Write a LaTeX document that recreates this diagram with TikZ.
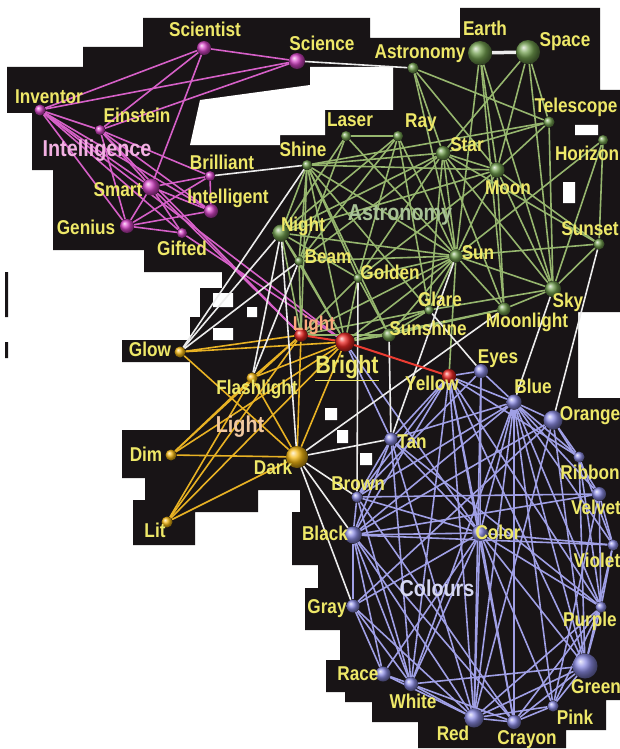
\documentclass[tikz,border=0pt]{standalone}
\usepackage{fontspec}
\newfontfamily\lfont[FakeStretch=0.86]{Liberation Sans}
\definecolor{bg}{RGB}{24,20,22}
\definecolor{lbl}{RGB}{238,232,104}
\definecolor{rlbl}{RGB}{252,168,124}
\definecolor{iball}{RGB}{215,70,200}
\definecolor{iline}{RGB}{214,96,200}
\definecolor{aball}{RGB}{115,160,80}
\definecolor{aline}{RGB}{150,182,110}
\definecolor{lball}{RGB}{245,185,20}
\definecolor{lline}{RGB}{232,178,36}
\definecolor{cball}{RGB}{140,140,228}
\definecolor{cline}{RGB}{160,160,230}
\definecolor{rball}{RGB}{236,40,36}
\definecolor{rline}{RGB}{235,60,50}
\definecolor{wline}{RGB}{236,236,236}
\definecolor{igrp}{RGB}{242,176,226}
\definecolor{agrp}{RGB}{168,194,150}
\definecolor{lgrp}{RGB}{242,201,160}
\definecolor{cgrp}{RGB}{214,216,242}
\pgfdeclarelayer{blob}
\pgfdeclarelayer{links}
\pgfsetlayers{blob,links,main}
\tikzset{
  tag/.style={text=lbl,font=\lfont\bfseries\fontsize{20}{20}\selectfont,inner sep=0pt,
              text height=14pt,text depth=0pt},
  group/.style={font=\lfont\bfseries\fontsize{23}{23}\selectfont,inner sep=0pt,
                text height=16pt,text depth=0pt},
  ball/.style={circle,inner sep=0pt,minimum size=#1},
  inode/.style={ball=#1,ball color=iball}, inode/.default=11pt,
  anode/.style={ball=#1,ball color=aball}, anode/.default=11pt,
  lnode/.style={ball=#1,ball color=lball}, lnode/.default=11pt,
  cnode/.style={ball=#1,ball color=cball}, cnode/.default=11pt,
  rnode/.style={ball=#1,ball color=rball}, rnode/.default=11pt,
  ilink/.style={draw=iline,line width=1.6pt},
  alink/.style={draw=aline,line width=1.6pt},
  llink/.style={draw=lline,line width=1.6pt},
  clink/.style={draw=cline,line width=1.6pt},
  rlink/.style={draw=rline,line width=2pt},
  wlink/.style={draw=wline,line width=1.6pt},
}
\begin{document}
\begin{tikzpicture}[x=1pt,y=-1pt]
  \useasboundingbox (0,0) rectangle (620,749);
  % black ground
  \begin{pgfonlayer}{blob}
    \fill[bg] (7,67) -- (83,67) -- (83,47) -- (143,47) -- (143,18) -- (370,18) -- (370,38)
      -- (460,38) -- (460,8) -- (600,8) -- (600,90) -- (620,90) -- (620,312) -- (578,312)
      -- (578,398) -- (620,398) -- (620,700) -- (606,700) -- (606,730) -- (566,730)
      -- (566,748) -- (418,748) -- (418,722) -- (372,722) -- (372,702) -- (345,702)
      -- (345,692) -- (326,692) -- (326,660) -- (340,660) -- (340,630) -- (305,630)
      -- (305,588) -- (318,588) -- (318,565) -- (292,565) -- (292,512) -- (300,512)
      -- (300,490) -- (258,490) -- (258,512) -- (195,512) -- (195,545) -- (133,545)
      -- (133,500) -- (145,500) -- (145,478) -- (122,478) -- (122,430) -- (190,430)
      -- (190,362) -- (122,362) -- (122,340) -- (190,340) -- (190,317) -- (200,317)
      -- (200,288) -- (222,288) -- (222,272) -- (144,272) -- (144,250) -- (53,250)
      -- (53,170) -- (32,170) -- (32,113) -- (7,113) -- cycle;
    \fill[white] (200,100) -- (310,85) -- (310,67) -- (393,67) -- (393,110) -- (325,110)
      -- (325,135) -- (280,135) -- (280,145) -- (190,145) -- cycle;
    \fill[white] (563,182) rectangle (575,203) (575,125) rectangle (598,135)
      (213,293) rectangle (233,307) (247,307) rectangle (257,317) (213,328) rectangle (233,340)
      (325,408) rectangle (337,420) (337,430) rectangle (348,443) (360,453) rectangle (372,465);
    \fill[bg] (5,272) rectangle (8,317) (5,342) rectangle (8,358);
  \end{pgfonlayer}

  % Intelligence
  \node[inode=14pt] (scientist) at (204,48) {};
  \node[inode=16pt] (science) at (297,61) {};
  \node[inode] (inventor) at (40,110) {};
  \node[inode=10pt] (einstein) at (100,130) {};
  \node[inode=10pt] (brilliant) at (210,176) {};
  \node[inode=17pt] (smart) at (151,187) {};
  \node[inode=14pt] (intelligent) at (211,211) {};
  \node[inode=14pt] (genius) at (127,226) {};
  \node[inode=10pt] (gifted) at (182,233) {};
  % Astronomy
  \node[anode] (astronomy) at (413,68) {};
  \node[anode=24pt] (earth) at (480,53) {};
  \node[anode=24pt] (space) at (528,52) {};
  \node[anode] (telescope) at (549,122) {};
  \node[anode=10pt] (laser) at (346,136) {};
  \node[anode=10pt] (ray) at (398,136) {};
  \node[anode=14pt] (star) at (443,153) {};
  \node[anode=10pt] (horizon) at (603,140) {};
  \node[anode=15pt] (moon) at (497,170) {};
  \node[anode=10pt] (shine) at (307,165) {};
  \node[anode=17pt] (night) at (281,233) {};
  \node[anode=9pt] (beam) at (299,261) {};
  \node[anode=9pt] (golden) at (358,278) {};
  \node[anode=13pt] (sun) at (456,256) {};
  \node[anode] (sunset) at (599,244) {};
  \node[anode=16pt] (sky) at (553,289) {};
  \node[anode=9pt] (glare) at (429,310) {};
  \node[anode=13pt] (moonlight) at (504,309) {};
  \node[anode=13pt] (sunshine) at (389,335) {};
  % bridges
  \node[rnode=13pt] (light) at (301,335) {};
  \node[rnode=19pt] (bright) at (345,342) {};
  \node[rnode=14pt] (yellow) at (449,376) {};
  % Light
  \node[lnode] (glow) at (180,352) {};
  \node[lnode] (flashlight) at (252,378) {};
  \node[lnode] (dim) at (171,455) {};
  \node[lnode=22pt] (dark) at (297,457) {};
  \node[lnode] (lit) at (167,522) {};
  % Colours
  \node[cnode=14pt] (eyes) at (481,371) {};
  \node[cnode=15pt] (blue) at (514,402) {};
  \node[cnode=19pt] (orange) at (553,420) {};
  \node[cnode=13pt] (tan) at (391,439) {};
  \node[cnode] (ribbon) at (579,457) {};
  \node[cnode] (brown) at (357,497) {};
  \node[cnode=14pt] (velvet) at (599,494) {};
  \node[cnode=17pt] (black) at (353,535) {};
  \node[cnode=16pt] (color) at (480,533) {};
  \node[cnode] (violet) at (613,545) {};
  \node[cnode=13pt] (gray) at (353,606) {};
  \node[cnode] (purple) at (601,607) {};
  \node[cnode=15pt] (race) at (383,674) {};
  \node[cnode=25pt] (green) at (585,666) {};
  \node[cnode=14pt] (white) at (411,684) {};
  \node[cnode] (pink) at (553,706) {};
  \node[cnode=19pt] (red) at (474,718) {};
  \node[cnode=14pt] (crayon) at (514,722) {};

  \begin{pgfonlayer}{links}
    \foreach \a/\b in {scientist/science,scientist/inventor,scientist/einstein,scientist/smart,
        science/inventor,science/einstein,inventor/einstein,inventor/smart,inventor/genius,
        inventor/intelligent,inventor/gifted,einstein/genius,einstein/smart,einstein/brilliant,
        einstein/intelligent,smart/brilliant,smart/intelligent,smart/genius,smart/gifted,
        genius/brilliant,genius/intelligent,genius/gifted,brilliant/intelligent,
        einstein/light,smart/light,inventor/bright,gifted/bright}
      \draw[ilink] (\a) -- (\b);
    \foreach \a/\b in {astronomy/telescope,astronomy/star,astronomy/moon,astronomy/sun,
        earth/moon,earth/sun,earth/sky,earth/moonlight,space/star,space/moon,space/telescope,
        space/sky,telescope/star,telescope/moon,telescope/sky,telescope/shine,
        laser/ray,laser/night,laser/beam,laser/sun,ray/night,ray/beam,ray/golden,ray/sun,ray/glare,
        star/shine,star/moon,star/sun,star/sky,star/night,star/beam,star/golden,star/glare,
        star/moonlight,star/sunset,horizon/sunset,horizon/sky,horizon/sun,
        moon/sun,moon/sky,moon/sunset,moon/night,moon/golden,moon/moonlight,moon/shine,
        sun/night,sun/beam,sun/golden,sun/glare,sun/sunshine,sun/light,sun/bright,sun/sky,
        sun/sunset,sun/moonlight,sun/shine,sunset/sky,sky/moonlight,sky/glare,
        shine/night,shine/beam,shine/golden,shine/sunshine,shine/light,shine/bright,shine/glare,
        night/beam,night/light,night/bright,night/golden,beam/light,beam/bright,
        golden/bright,golden/light,golden/sunshine,glare/bright,glare/sunshine,glare/light,
        sunshine/bright,sunshine/light,moonlight/bright,moonlight/sunshine,sun/yellow}
      \draw[alink] (\a) -- (\b);
    \foreach \a/\b in {glow/light,glow/bright,glow/dark,flashlight/light,flashlight/bright,
        flashlight/dark,flashlight/dim,flashlight/lit,dim/dark,dim/light,dim/bright,
        lit/dark,lit/light,lit/bright,dark/light,dark/bright}
      \draw[llink] (\a) -- (\b);
    \foreach \a/\b in {yellow/eyes,yellow/blue,yellow/tan,yellow/brown,yellow/black,yellow/color,
        yellow/red,yellow/crayon,yellow/green,yellow/purple,yellow/ribbon,yellow/white,
        eyes/blue,eyes/red,eyes/color,eyes/brown,
        blue/orange,blue/ribbon,blue/velvet,blue/violet,blue/purple,blue/green,blue/pink,
        blue/crayon,blue/red,blue/white,blue/color,blue/black,blue/brown,blue/tan,
        orange/ribbon,orange/velvet,orange/black,orange/red,orange/gray,orange/green,
        tan/brown,tan/black,tan/color,tan/red,tan/purple,tan/white,
        ribbon/violet,ribbon/purple,ribbon/green,
        brown/black,brown/velvet,brown/crayon,brown/white,brown/color,
        velvet/violet,velvet/purple,velvet/pink,velvet/black,
        black/color,black/gray,black/race,black/white,black/red,black/crayon,black/violet,
        color/red,color/crayon,color/green,color/pink,color/white,color/race,color/purple,
        color/violet,color/gray,violet/purple,violet/green,gray/race,gray/white,gray/red,
        purple/green,purple/pink,purple/crayon,purple/red,race/white,race/red,
        green/pink,green/crayon,green/white,green/red,white/red,white/crayon,
        pink/crayon,pink/red,red/crayon,bright/color,bright/tan}
      \draw[clink] (\a) -- (\b);
    \foreach \a/\b in {science/astronomy,brilliant/shine,glow/shine,glow/night,glow/beam,
        flashlight/night,flashlight/beam,dark/night,dark/moonlight,dark/tan,dark/brown,
        dark/black,dark/gray,golden/brown,sun/tan,sunshine/tan,glare/eyes,sky/blue,sunset/orange}
      \draw[wlink] (\a) -- (\b);
    \draw[wlink,line width=3.5pt] (earth) -- (space);
    \draw[rlink] (light) -- (bright);
    \draw[rlink] (bright) -- (yellow);
  \end{pgfonlayer}

  % labels
  \node[tag] (t-scientist) at (205,30) {Scientist};
  \node[tag] (t-science) at (322,44) {Science};
  \node[tag] (t-inventor) at (49,97) {Inventor};
  \node[tag] (t-einstein) at (137,116) {Einstein};
  \node[tag] (t-brilliant) at (222,162) {Brilliant};
  \node[tag] (t-smart) at (118,189) {Smart};
  \node[tag] (t-intelligent) at (228,196) {Intelligent};
  \node[tag] (t-genius) at (86,227) {Genius};
  \node[tag] (t-gifted) at (182,248) {Gifted};
  \node[tag] (t-astronomy) at (420,52) {Astronomy};
  \node[tag] (t-earth) at (485,29) {Earth};
  \node[tag] (t-space) at (565,40) {Space};
  \node[tag] (t-telescope) at (576,106) {Telescope};
  \node[tag] (t-laser) at (350,120) {Laser};
  \node[tag] (t-ray) at (421,121) {Ray};
  \node[tag] (t-star) at (467,144) {Star};
  \node[tag] (t-horizon) at (587,153) {Horizon};
  \node[tag] (t-moon) at (508,187) {Moon};
  \node[tag] (t-shine) at (303,150) {Shine};
  \node[tag] (t-night) at (303,224) {Night};
  \node[tag] (t-beam) at (328,256) {Beam};
  \node[tag] (t-golden) at (390,272) {Golden};
  \node[tag] (t-sun) at (478,252) {Sun};
  \node[tag] (t-sunset) at (590,228) {Sunset};
  \node[tag] (t-sky) at (568,300) {Sky};
  \node[tag] (t-glare) at (440,299) {Glare};
  \node[tag] (t-moonlight) at (527,320) {Moonlight};
  \node[tag] (t-sunshine) at (428,328) {Sunshine};
  \node[tag,text=rlbl] (t-light) at (314,323) {Light};
  \node[tag,font=\lfont\bfseries\fontsize{25}{25}\selectfont,text height=17pt]
    (t-bright) at (347,365) {\underline{Bright}};
  \node[tag] (t-yellow) at (432,383) {Yellow};
  \node[tag] (t-glow) at (150,349) {Glow};
  \node[tag] (t-flashlight) at (257,387) {Flashlight};
  \node[tag] (t-dim) at (146,454) {Dim};
  \node[tag] (t-dark) at (273,467) {Dark};
  \node[tag] (t-lit) at (155,530) {Lit};
  \node[tag] (t-eyes) at (498,356) {Eyes};
  \node[tag] (t-blue) at (533,386) {Blue};
  \node[tag] (t-orange) at (590,413) {Orange};
  \node[tag] (t-tan) at (412,441) {Tan};
  \node[tag] (t-ribbon) at (590,472) {Ribbon};
  \node[tag] (t-brown) at (358,483) {Brown};
  \node[tag] (t-velvet) at (596,507) {Velvet};
  \node[tag] (t-black) at (325,533) {Black};
  \node[tag] (t-color) at (498,532) {Color};
  \node[tag] (t-violet) at (597,560) {Violet};
  \node[tag] (t-gray) at (327,606) {Gray};
  \node[tag] (t-purple) at (590,619) {Purple};
  \node[tag] (t-race) at (358,673) {Race};
  \node[tag] (t-green) at (596,686) {Green};
  \node[tag] (t-white) at (413,701) {White};
  \node[tag] (t-pink) at (575,717) {Pink};
  \node[tag] (t-red) at (453,733) {Red};
  \node[tag] (t-crayon) at (527,737) {Crayon};
  % group names
  \node[group,text=igrp] (g-intelligence) at (97,148) {Intelligence};
  \node[group,text=agrp] (g-astronomy) at (400,212) {Astronomy};
  \node[group,text=lgrp] (g-light) at (240,424) {Light};
  \node[group,text=cgrp] (g-colours) at (437,588) {Colours};
\end{tikzpicture}
\end{document}
